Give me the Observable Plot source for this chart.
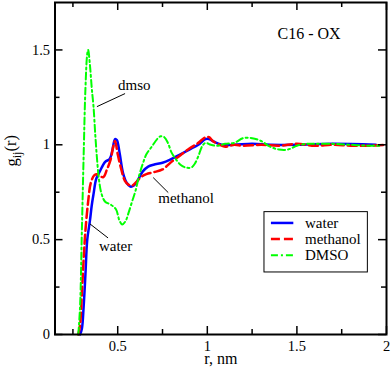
<!DOCTYPE html>
<html>
<head>
<meta charset="utf-8">
<script src="https://cdn.jsdelivr.net/npm/d3@7"></script>
<script src="https://cdn.jsdelivr.net/npm/@observablehq/plot@0.6"></script>
<style>
  html, body { margin: 0; padding: 0; background: white; }
</style>
</head>
<body>
<div id="chart"></div>
<script>
// ---- data ----
const waterR = [0.29,0.30,0.31,0.32,0.33,0.345,0.355,0.365,0.38,0.40,0.43,0.455,0.47,0.485,0.495,0.51,0.53,0.55,0.57,0.59,0.61,0.64,0.67,0.70,0.75,0.79,0.85,0.90,0.95,0.99,1.01,1.04,1.08,1.15,1.25,1.35,1.5,1.7,1.94];
const waterG = [0,0.03,0.15,0.32,0.5,0.6,0.68,0.74,0.82,0.86,0.91,0.925,0.97,1.03,1.025,0.96,0.85,0.8,0.78,0.785,0.81,0.86,0.885,0.895,0.905,0.92,0.95,0.975,1.0,1.03,1.03,1.015,1.0,1.0,1.005,1.0,1.0,1.005,1.0];

const methR = [0.28,0.29,0.30,0.31,0.32,0.335,0.35,0.37,0.385,0.40,0.42,0.44,0.46,0.475,0.485,0.50,0.52,0.54,0.56,0.58,0.60,0.63,0.66,0.70,0.75,0.80,0.85,0.90,0.95,0.99,1.01,1.03,1.07,1.10,1.15,1.2,1.3,1.4,1.5,1.6,1.7,1.8,1.9,2.0];
const methG = [0,0.05,0.22,0.4,0.55,0.7,0.8,0.84,0.845,0.835,0.83,0.87,0.92,0.99,1.02,0.95,0.87,0.81,0.79,0.785,0.8,0.83,0.845,0.855,0.87,0.91,0.945,0.98,1.01,1.04,1.04,1.02,1.0,0.99,1.0,0.995,1.0,0.995,1.005,0.995,1.0,0.995,0.995,1.0];

const dmsoR = [0.28,0.29,0.30,0.31,0.32,0.33,0.335,0.345,0.355,0.365,0.375,0.385,0.395,0.41,0.43,0.46,0.49,0.51,0.525,0.545,0.56,0.58,0.60,0.62,0.64,0.66,0.69,0.72,0.74,0.76,0.78,0.80,0.82,0.85,0.88,0.91,0.93,0.95,0.97,0.99,1.02,1.06,1.1,1.15,1.2,1.25,1.3,1.35,1.4,1.45,1.5,1.55,1.6,1.7,1.8,1.9,1.97];
const dmsoG = [0,0.15,0.55,0.95,1.3,1.48,1.5,1.42,1.3,1.2,1.05,0.92,0.82,0.74,0.7,0.685,0.66,0.6,0.58,0.6,0.64,0.7,0.76,0.84,0.9,0.95,0.99,1.03,1.045,1.04,1.01,0.96,0.93,0.895,0.88,0.88,0.9,0.94,0.99,1.01,1.0,0.995,1.005,1.01,1.035,1.035,1.02,0.99,0.975,0.975,0.995,1.005,1.005,1.005,1.0,0.995,0.995];

const seriesNames = ["water", "methanol", "DMSO"];
const seriesColors = ["#0000ff", "#ff0000", "#00ff00"];
const seriesDash = [null, "9,4", "7,3,2,3"];
const seriesWidth = [2.5, 2.5, 2];

const majorX = [0.5, 1, 1.5, 2];
const minorX = [0.25, 0.75, 1.25, 1.75];
const majorY = [0, 0.5, 1, 1.5];
const minorY = [0.25, 0.75, 1.25];

const title = "C16 - OX";
const xLabel = "r, nm";

// annotations
const notes = [
  {label: "dmso", tx: 0.502, ty: 1.312, x1: 0.384, y1: 1.201, x2: 0.541, y2: 1.270},
  {label: "water", tx: 0.395, ty: 0.464, x1: 0.345, y1: 0.583, x2: 0.446, y2: 0.509},
  {label: "methanol", tx: 0.726, ty: 0.717, x1: 0.698, y1: 0.827, x2: 0.782, y2: 0.748}
];

// legend layout (data units)
const legendBox = {x1: 1.319, x2: 1.896, y1: 0.327, y2: 0.645};
const legendRowsY = [0.588, 0.503, 0.418];
const legendLineX = [1.355, 1.480];
const legendTextX = 1.545;

// ---- build ----
const zip = (xs, ys) => xs.map((x, i) => ({x, y: ys[i]}));
const curves = [zip(waterR, waterG), zip(methR, methG), zip(dmsoR, dmsoG)];

const W = 391, H = 368;
const mL = 54.5, mR = 5, mT = 2, mB = 34;
const innerW = W - mL - mR, innerH = H - mT - mB;
const majorLen = 8, minorLen = 5;

const tickMarks = [];
for (const [arr, len] of [[majorX, majorLen], [minorX, minorLen]]) {
  tickMarks.push(Plot.tickX(arr, {x: d => d, insetTop: innerH - len, stroke: "black", strokeWidth: 1.5}));
  tickMarks.push(Plot.tickX(arr, {x: d => d, insetBottom: innerH - len, stroke: "black", strokeWidth: 1.5}));
}
for (const [arr, len] of [[majorY, majorLen], [minorY, minorLen]]) {
  tickMarks.push(Plot.tickY(arr, {y: d => d, insetRight: innerW - len, stroke: "black", strokeWidth: 1.5}));
  tickMarks.push(Plot.tickY(arr, {y: d => d, insetLeft: innerW - len, stroke: "black", strokeWidth: 1.5}));
}

const legendRows = seriesNames.map((name, i) => ({
  name, color: seriesColors[i], dash: seriesDash[i], w: seriesWidth[i],
  y: legendRowsY[i], x1: legendLineX[0], x2: legendLineX[1], tx: legendTextX
}));

const chart = Plot.plot({
  width: W, height: H,
  marginLeft: mL, marginRight: mR, marginTop: mT, marginBottom: mB,
  x: {domain: [0.15, 2]},
  y: {domain: [0, 1.75]},
  style: {fontFamily: "'Liberation Serif', 'Times New Roman', serif", fontSize: "15px", background: "white", color: "black"},
  marks: [
    ...curves.map((c, i) => Plot.line(c, {
      x: "x", y: "y", stroke: seriesColors[i], strokeWidth: seriesWidth[i],
      strokeDasharray: seriesDash[i], curve: "catmull-rom"
    })),
    ...tickMarks,
    Plot.axisX(majorX, {tickSize: 0, tickPadding: 6, tickFormat: d => String(d), fontSize: 14.5, label: null}),
    Plot.axisY(majorY, {tickSize: 0, tickPadding: 5, tickFormat: d => String(d), fontSize: 14.5, label: null}),
    Plot.frame({stroke: "black", strokeWidth: 2}),
    // annotations
    Plot.link(notes, {x1: "x1", y1: "y1", x2: "x2", y2: "y2", stroke: "black", strokeWidth: 1}),
    Plot.text(notes, {x: "tx", y: "ty", text: "label", textAnchor: "start", fontSize: 15}),
    Plot.text([title], {x: 1.392, y: 1.584, text: d => d, textAnchor: "start", fontSize: 16}),
    // legend
    Plot.rect([legendBox], {x1: "x1", x2: "x2", y1: "y1", y2: "y2", fill: "white", stroke: "black", strokeWidth: 1}),
    ...legendRows.map(r => Plot.link([r], {x1: "x1", x2: "x2", y1: "y", y2: "y", stroke: r.color, strokeWidth: r.w, strokeDasharray: r.dash})),
    Plot.text(legendRows, {x: "tx", y: "y", text: "name", textAnchor: "start", fontSize: 15}),
    // axis titles
    Plot.text([xLabel], {frameAnchor: "bottom", dy: 24.5, lineAnchor: "middle", text: d => d, fontSize: 16}),
    Plot.text(["g(r)"], {frameAnchor: "left", dx: -43, dy: -2, rotate: -90, text: d => d, fontSize: 16.5})
  ]
});

// y-axis title with subscript
d3.select(chart).selectAll("text").filter(function() { return this.textContent === "g(r)"; })
  .each(function() {
    const t = d3.select(this);
    t.text("");
    t.append("tspan").text("g");
    t.append("tspan").attr("dy", "0.3em").attr("font-size", "12px").text("ij");
    t.append("tspan").attr("dy", "-0.3em").text("(r)");
  });

document.getElementById("chart").appendChild(chart);
</script>
</body>
</html>
